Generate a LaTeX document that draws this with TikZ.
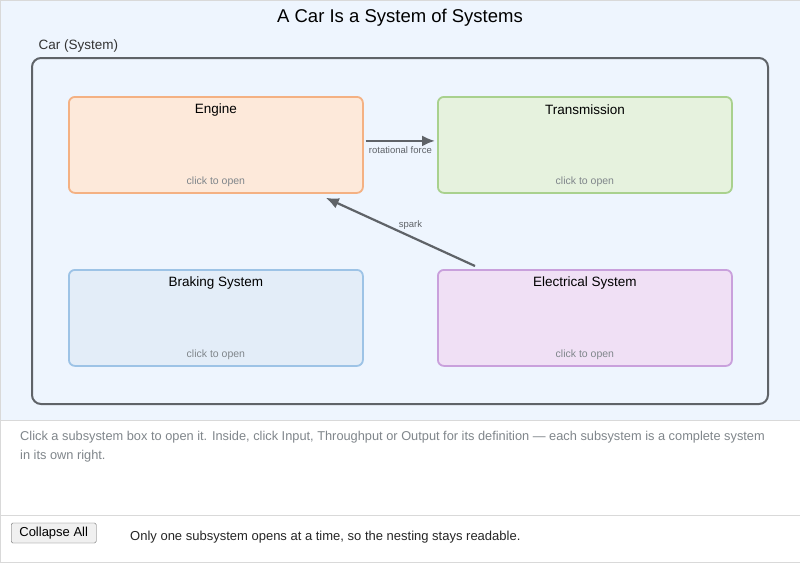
\documentclass[tikz,border=0pt]{standalone}
\usepackage{fontspec}
\setmainfont{Liberation Sans}
\usetikzlibrary{calc,arrows.meta}

\definecolor{panelbg}{HTML}{EEF5FE}
\definecolor{edgegrey}{HTML}{5F6368}
\definecolor{textgrey}{HTML}{80868B}
\definecolor{engfill}{HTML}{FDE9DA}
\definecolor{engline}{HTML}{F4B183}
\definecolor{trfill}{HTML}{E6F2DE}
\definecolor{trline}{HTML}{A9D18E}
\definecolor{brfill}{HTML}{E3EDF8}
\definecolor{brline}{HTML}{9DC3E6}
\definecolor{elfill}{HTML}{F0E0F5}
\definecolor{elline}{HTML}{C9A0DC}

\begin{document}
\begin{tikzpicture}
		[
		x=1pt, y=-1pt, font=\small,
		%Voreinstellungen
		subsys/.style={draw, line width=1.8pt, rounded corners=6pt, minimum width=294pt, minimum height=96pt, anchor=north west},
		flow/.style={-{Latex[length=13pt,width=11pt]}, line width=2.2pt, draw=edgegrey, fill=edgegrey},
		flowlabel/.style={font=\fontsize{9.5}{11}\selectfont, text=edgegrey}
		]
		
		%Hintergrund
		\useasboundingbox (0,0) rectangle (800,562);
		\filldraw[fill=panelbg, draw=black!15] (0,0) rectangle (800,420);
		\filldraw[fill=white, draw=black!15] (0,420) rectangle (800,515);
		\filldraw[fill=white, draw=black!15] (0,515) rectangle (800,562);
		
		%Titel
		\node[font=\fontsize{18.5}{22}\selectfont] (title) at (400,18) {A Car Is a System of Systems};
		\node[anchor=west, font=\fontsize{13.5}{16}\selectfont, text=black!80] (carlabel) at (35,46) {Car (System)};
		
		%Auto
		\draw[line width=2pt, draw=edgegrey, rounded corners=9pt] (32,58) rectangle (768,404);
		
		%Subsysteme
		\foreach \nm/\px/\py/\fc/\lc/\ttl in {engine/68/96/engfill/engline/Engine,
			transmission/437/96/trfill/trline/Transmission,
			braking/68/269/brfill/brline/Braking System,
			electrical/437/269/elfill/elline/Electrical System}
		{
			\node[subsys, fill=\fc, draw=\lc] (\nm) at (\px,\py) {};
			\node[font=\fontsize{13.5}{16}\selectfont] (\nm-title) at ($(\nm.north)+(0,14)$) {\ttl};
			\node[font=\fontsize{10.5}{12}\selectfont, text=textgrey] (\nm-open) at ($(\nm.south)+(0,-12)$) {click to open};
		}
		
		%Pfeile
		\coordinate (sparkstart) at ($(electrical.north west)+(38,-3)$);
		\coordinate (sparkend) at ($(engine.south east)+(-38,4)$);
		\draw[flow] (engine.east) ++(2,-4) coordinate (rfstart) -- ($(transmission.west)+(-2,-4)$)
			node[midway, below, flowlabel, yshift=-1pt] {rotational force};
		\draw[flow] (sparkstart) -- (sparkend) node[midway, above right, flowlabel, xshift=-6pt, yshift=-2pt] {spark};
		
		%Erklaerung
		\node[anchor=north west, font=\fontsize{12.8}{19}\selectfont, text=textgrey, align=left, inner sep=0pt] (hint) at (20,431)
			{Click a subsystem box to open it. Inside, click Input, Throughput or Output for its definition — each subsystem is a complete system\\ in its own right.};
		\node[draw=black!65, fill=black!6, rounded corners=1.5pt, anchor=west, minimum width=85pt, minimum height=20pt, inner sep=1pt, font=\fontsize{13}{14}\selectfont] (collapse) at (11,533) {Collapse All};
		\node[anchor=west, font=\fontsize{13}{14}\selectfont, text=black!85, inner sep=0pt] (note) at (130,537) {Only one subsystem opens at a time, so the nesting stays readable.};
	\end{tikzpicture}
\end{document}
